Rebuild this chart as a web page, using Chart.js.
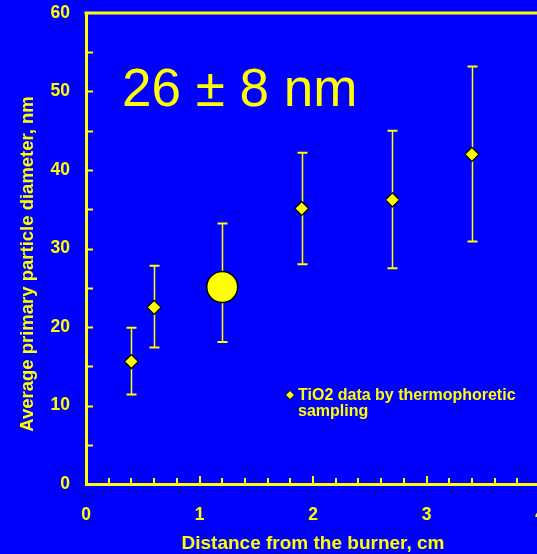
<!DOCTYPE html>
<html>
<head>
<meta charset="utf-8">
<script src="https://cdn.jsdelivr.net/npm/chart.js@4.4.1/dist/chart.umd.min.js"></script>
<style>
  html, body { margin: 0; padding: 0; overflow: hidden; background: #0000ff; }
  canvas { display: block; }
</style>
</head>
<body>
<canvas id="chartScatter" width="560" height="554"></canvas>
<script>
// thermophoretic sampling points
const distance = [0.4, 0.6, 1.9, 2.7, 3.4];
const diameter = [15.6, 22.5, 35.1, 36.2, 42.0];
const errLow = [11.4, 17.4, 28.0, 27.5, 30.9];
const errHigh = [19.9, 27.8, 42.2, 45.0, 53.2];

// mean value (big circle)
const meanDistance = [1.2];
const meanDiameter = [25.1];
const meanLow = [18.1];
const meanHigh = [33.2];

const xTicks = [0, 1, 2, 3, 4];
const yTicks = [0, 10, 20, 30, 40, 50, 60];

const bigLabel = "26 \u00b1 8 nm";
const legendLines = ["TiO2 data by thermophoretic", "sampling"];
const xTitle = "Distance from the burner, cm";
const yTitle = "Average primary particle diameter, nm";

const BLUE = "#0000ff";
const YELLOW = "#ffff00";
const FONT = "'Liberation Sans', Arial, sans-serif";

const extras = {
    id: "extras",
    beforeDraw(chart) {
        const ctx = chart.ctx;
        ctx.save();
        ctx.fillStyle = BLUE;
        ctx.fillRect(0, 0, chart.width, chart.height);
        ctx.restore();
    },
    beforeDatasetsDraw(chart) {
        const ctx = chart.ctx;
        const x = chart.scales.x, y = chart.scales.y;
        const area = chart.chartArea;
        ctx.save();
        ctx.strokeStyle = YELLOW;

        // top frame line
        ctx.lineWidth = 3;
        ctx.beginPath();
        ctx.moveTo(area.left - 1.5, area.top);
        ctx.lineTo(chart.width, area.top);
        ctx.stroke();

        // inward tick marks
        ctx.lineWidth = 2;
        for (let v = 5; v < 60; v += 5) {
            const py = Math.round(y.getPixelForValue(v)) + 0.5;
            ctx.beginPath();
            ctx.moveTo(area.left, py);
            ctx.lineTo(area.left + 7, py);
            ctx.stroke();
        }
        for (let i = 1; i <= 20; i++) {
            const px = Math.round(x.getPixelForValue(i * 0.2));
            const len = i % 5 === 0 ? 8 : 6;
            ctx.beginPath();
            ctx.moveTo(px, area.bottom);
            ctx.lineTo(px, area.bottom - len);
            ctx.stroke();
        }

        // error bars
        function errBar(xv, lo, hi) {
            const px = Math.round(x.getPixelForValue(xv)) + 0.5;
            const pLo = y.getPixelForValue(lo), pHi = y.getPixelForValue(hi);
            ctx.lineWidth = 1.5;
            ctx.beginPath();
            ctx.moveTo(px, pLo);
            ctx.lineTo(px, pHi);
            ctx.stroke();
            ctx.lineWidth = 2;
            ctx.beginPath();
            ctx.moveTo(px - 5, pLo); ctx.lineTo(px + 5, pLo);
            ctx.moveTo(px - 5, pHi); ctx.lineTo(px + 5, pHi);
            ctx.stroke();
        }
        distance.forEach((d, i) => errBar(d, errLow[i], errHigh[i]));
        meanDistance.forEach((d, i) => errBar(d, meanLow[i], meanHigh[i]));
        ctx.restore();
    },
    afterDraw(chart) {
        const ctx = chart.ctx;
        ctx.save();
        ctx.fillStyle = YELLOW;

        // big annotation
        ctx.font = "53px " + FONT;
        ctx.textBaseline = "alphabetic";
        ctx.textAlign = "left";
        ctx.fillText(bigLabel, 122, 106);

        // legend
        const lx = 290, ly = 395;
        ctx.beginPath();
        ctx.moveTo(lx, ly - 4.5);
        ctx.lineTo(lx + 4.5, ly);
        ctx.lineTo(lx, ly + 4.5);
        ctx.lineTo(lx - 4.5, ly);
        ctx.closePath();
        ctx.fill();
        ctx.strokeStyle = "#000";
        ctx.lineWidth = 1;
        ctx.stroke();
        ctx.font = "bold 16px " + FONT;
        ctx.fillText(legendLines[0], 298, 400);
        ctx.fillText(legendLines[1], 298, 416);

        // y axis title
        ctx.font = "bold 18.5px " + FONT;
        ctx.textAlign = "center";
        ctx.textBaseline = "middle";
        ctx.translate(28, 264);
        ctx.rotate(-Math.PI / 2);
        ctx.fillText(yTitle, 0, 0);
        ctx.restore();
    }
};

const tickFont = { family: FONT, size: 17.5, weight: "bold" };

const configScatter = {
    type: "scatter",
    data: {
        datasets: [
            {
                label: legendLines.join(" "),
                data: distance.map((d, i) => ({ x: d, y: diameter[i] })),
                pointStyle: "rectRot",
                pointRadius: 7,
                pointHoverRadius: 7,
                backgroundColor: YELLOW,
                borderColor: "#000",
                borderWidth: 1.2,
            },
            {
                label: "mean",
                data: meanDistance.map((d, i) => ({ x: d, y: meanDiameter[i] })),
                pointStyle: "circle",
                pointRadius: 15.5,
                pointHoverRadius: 15.5,
                backgroundColor: YELLOW,
                borderColor: "#000",
                borderWidth: 1.5,
            }
        ]
    },
    options: {
        responsive: false,
        animation: false,
        layout: { autoPadding: false, padding: { left: 0, top: 13, right: 20, bottom: 0 } },
        plugins: {
            legend: { display: false },
            tooltip: { enabled: false }
        },
        scales: {
            x: {
                type: "linear",
                min: 0,
                max: 4,
                afterBuildTicks: s => { s.ticks = xTicks.map(v => ({ value: v })); },
                afterFit: s => { s.height = 70; s.paddingLeft = 0; s.paddingRight = 0; },
                grid: { display: false, drawTicks: false },
                border: { color: YELLOW, width: 3 },
                ticks: { color: YELLOW, font: tickFont, padding: 21, maxRotation: 0 },
                title: {
                    display: true,
                    text: xTitle,
                    color: YELLOW,
                    font: { family: FONT, size: 19, weight: "bold", lineHeight: 1 },
                    padding: { top: 0, bottom: 1 }
                }
            },
            y: {
                type: "linear",
                min: 0,
                max: 60,
                afterBuildTicks: s => { s.ticks = yTicks.map(v => ({ value: v })); },
                afterFit: s => { s.width = 86; s.paddingTop = 0; s.paddingBottom = 0; },
                grid: { display: false, drawTicks: false },
                border: { color: YELLOW, width: 3 },
                ticks: { color: YELLOW, font: tickFont, padding: 16 }
            }
        }
    },
    plugins: [extras]
};

var chartScatter = new Chart(
    document.getElementById("chartScatter"),
    configScatter
);
</script>
</body>
</html>
